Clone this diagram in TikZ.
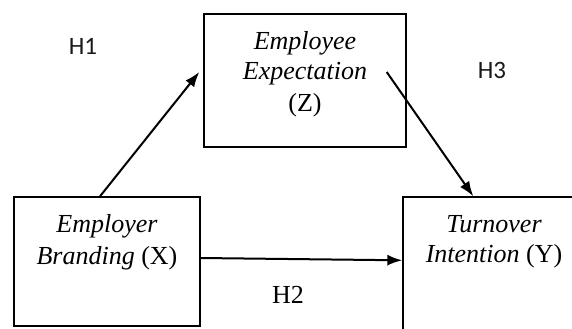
\documentclass[tikz,border=0pt]{standalone}
\usepackage{fontspec}
\setmainfont{Liberation Serif}
\newfontfamily\hfont{Carlito}
\usetikzlibrary{arrows.meta,calc}
\begin{document}
\begin{tikzpicture}[x=1bp,y=-1bp,
  box/.style={draw=black,line width=1.4bp,inner sep=0pt},
  txt/.style={inner sep=0pt,anchor=base,font=\fontsize{26bp}{31bp}\selectfont},
  hlab/.style={inner sep=0pt,text=black!90,font=\hfont\fontsize{25bp}{30bp}\selectfont},
  arr/.style={line width=2bp,-{Latex[length=15bp,width=11bp]}}]
\useasboundingbox (0,0) rectangle (572,328);
% boxes
\node[box,minimum width=202bp,minimum height=133bp] (Z) at (305,80.5) {};
\node[box,minimum width=186bp,minimum height=129bp] (X) at (107,261.5) {};
\node[box,minimum width=182bp,minimum height=143bp] (Y) at (494,268.5) {};
% texts
\node[txt] (z1) at (305,49) {\textit{Employee}};
\node[txt] (z2) at (305,79) {\textit{Expectation}};
\node[txt] (z3) at (305,111) {(Z)};
\node[txt] (x1) at (107,232) {\textit{Employer}};
\node[txt] (x2) at (107,264) {\textit{Branding} (X)};
\node[txt] (y1) at (494,232) {\textit{Turnover}};
\node[txt] (y2) at (494,262) {\textit{Intention} (Y)};
% labels
\node[hlab] (h1) at (83,46) {H1};
\node[hlab] (h3) at (492,70) {H3};
\node[txt] (h2) at (288,303) {H2};
% connectors
\draw[arr] ([xshift=-7bp]X.north) -- ([xshift=-4bp,yshift=8.5bp]Z.west);
\draw[arr] ([xshift=-20bp,yshift=8.5bp]Z.east) -- ([xshift=71bp]Y.north west);
\draw[arr] ([yshift=3.5bp]X.east) -- ([yshift=-64bp]Y.north west);
\end{tikzpicture}
\end{document}
